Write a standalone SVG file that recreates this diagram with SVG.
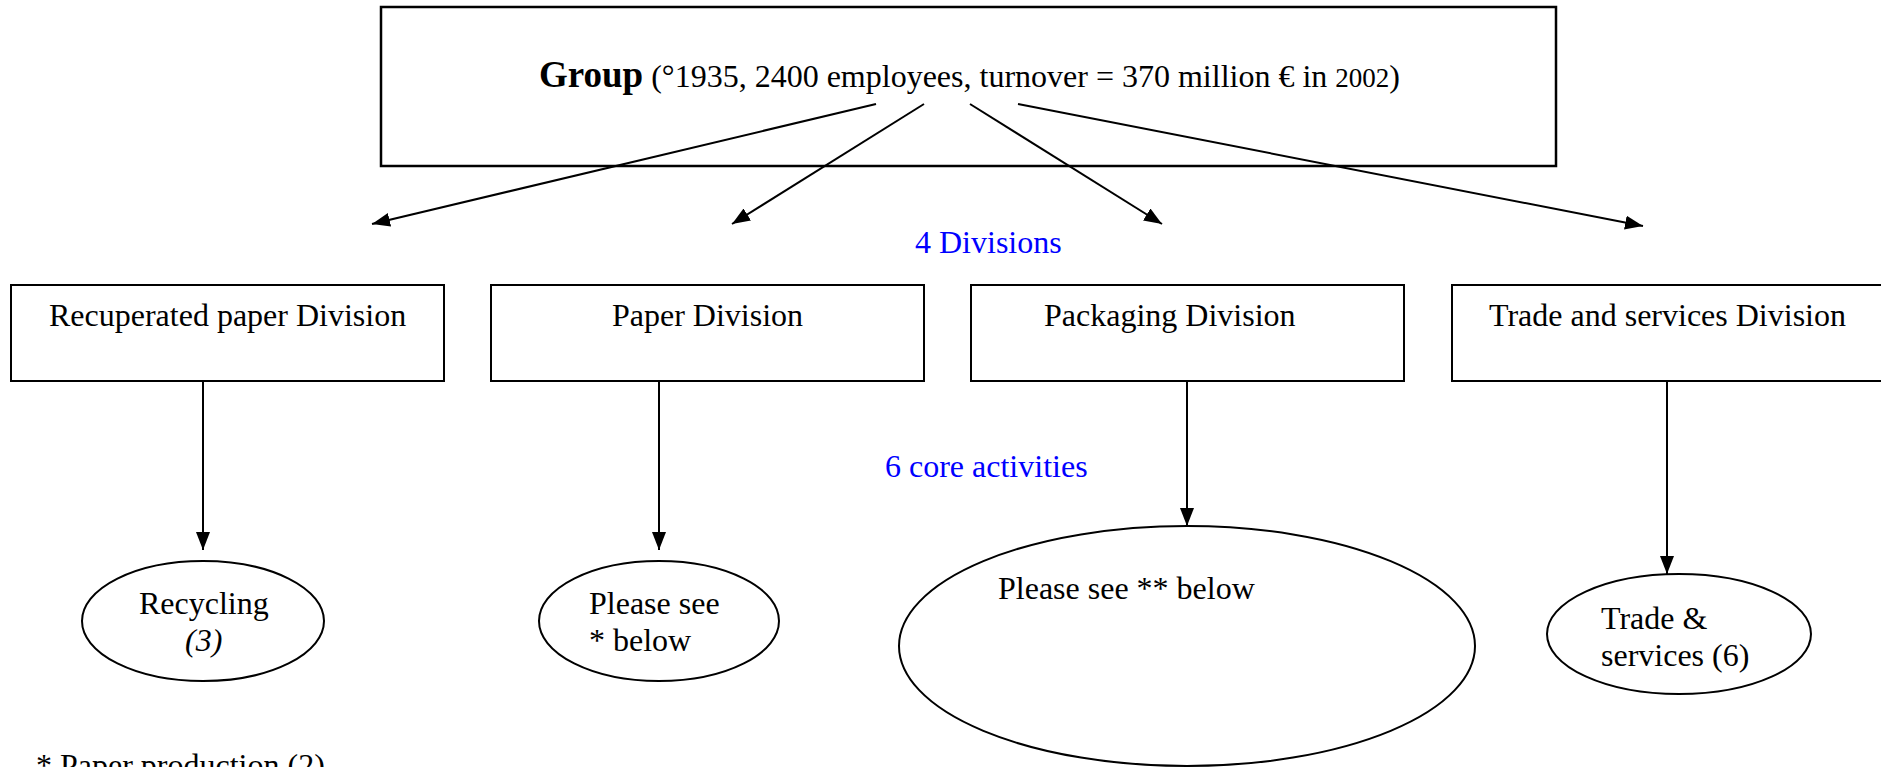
<svg xmlns="http://www.w3.org/2000/svg" width="1881" height="767" viewBox="0 0 1881 767">
  <style>
    .box { fill: #ffffff; stroke: #000000; stroke-width: 2; }
    .top { fill: #ffffff; stroke: #000000; stroke-width: 2.5; }
    .oval { fill: #ffffff; stroke: #000000; stroke-width: 2; }
    .t { font-family: "Liberation Serif", "Times New Roman", serif; font-size: 32px; fill: #000000; }
    .note { font-family: "Liberation Serif", "Times New Roman", serif; font-size: 32px; fill: #0000ff; }
    .link { stroke: #000000; stroke-width: 2; fill: none; marker-end: url(#head); }
  </style>
  <defs>
    <marker id="head" viewBox="0 0 18 14" refX="18" refY="7" markerWidth="18" markerHeight="14" markerUnits="userSpaceOnUse" orient="auto">
      <path d="M0,0 L18,7 L0,14 Z" fill="#000000"/>
    </marker>
  </defs>

  <rect width="1881" height="767" fill="#ffffff"/>

  <!-- parent company -->
  <g id="group">
    <rect class="top" x="381" y="7" width="1175" height="159"/>
    <text class="t" x="539" y="87"><tspan font-weight="bold" font-size="37">Group</tspan> (°1935, 2400 employees, turnover = 370 million € in <tspan font-size="27">2002</tspan>)</text>
  </g>

  <!-- divisions -->
  <g id="div-recuperated">
    <rect class="box" x="11" y="285" width="433" height="96"/>
    <text class="t" x="49" y="326">Recuperated paper Division</text>
  </g>
  <g id="div-paper">
    <rect class="box" x="491" y="285" width="433" height="96"/>
    <text class="t" x="612" y="326">Paper Division</text>
  </g>
  <g id="div-packaging">
    <rect class="box" x="971" y="285" width="433" height="96"/>
    <text class="t" x="1044" y="326">Packaging Division</text>
  </g>
  <g id="div-trade">
    <rect class="box" x="1452" y="285" width="433" height="96"/>
    <text class="t" x="1489" y="326">Trade and services Division</text>
  </g>

  <!-- annotations -->
  <g id="label-divisions">
    <text class="note" x="915" y="253">4 Divisions</text>
  </g>
  <g id="label-activities">
    <text class="note" x="885" y="477">6 core activities</text>
  </g>

  <!-- core activities -->
  <g id="act-recycling">
    <ellipse class="oval" cx="203" cy="621" rx="121" ry="60"/>
    <text class="t" x="139" y="614">Recycling</text>
    <text class="t" x="185" y="651" font-style="italic">(3)</text>
  </g>
  <g id="act-paper">
    <ellipse class="oval" cx="659" cy="621" rx="120" ry="60"/>
    <text class="t" x="589" y="614">Please see</text>
    <text class="t" x="589" y="651">* below</text>
  </g>
  <g id="act-packaging">
    <ellipse class="oval" cx="1187" cy="646" rx="288" ry="120"/>
    <text class="t" x="998" y="599">Please see ** below</text>
  </g>
  <g id="act-trade">
    <ellipse class="oval" cx="1679" cy="634" rx="132" ry="60"/>
    <text class="t" x="1601" y="629">Trade &amp;</text>
    <text class="t" x="1601" y="666">services (6)</text>
  </g>

  <g id="footnote">
    <text class="t" x="36" y="776">* Paper production (2)</text>
  </g>

  <!-- connectors -->
  <g id="connectors">
    <line class="link" x1="876" y1="104" x2="372" y2="224"/>
    <line class="link" x1="924" y1="104" x2="732" y2="224"/>
    <line class="link" x1="970" y1="104" x2="1162" y2="224"/>
    <line class="link" x1="1018" y1="104" x2="1643" y2="226"/>
    <line class="link" x1="203" y1="381" x2="203" y2="550"/>
    <line class="link" x1="659" y1="381" x2="659" y2="550"/>
    <line class="link" x1="1187" y1="381" x2="1187" y2="526"/>
    <line class="link" x1="1667" y1="381" x2="1667" y2="574"/>
  </g>
</svg>
